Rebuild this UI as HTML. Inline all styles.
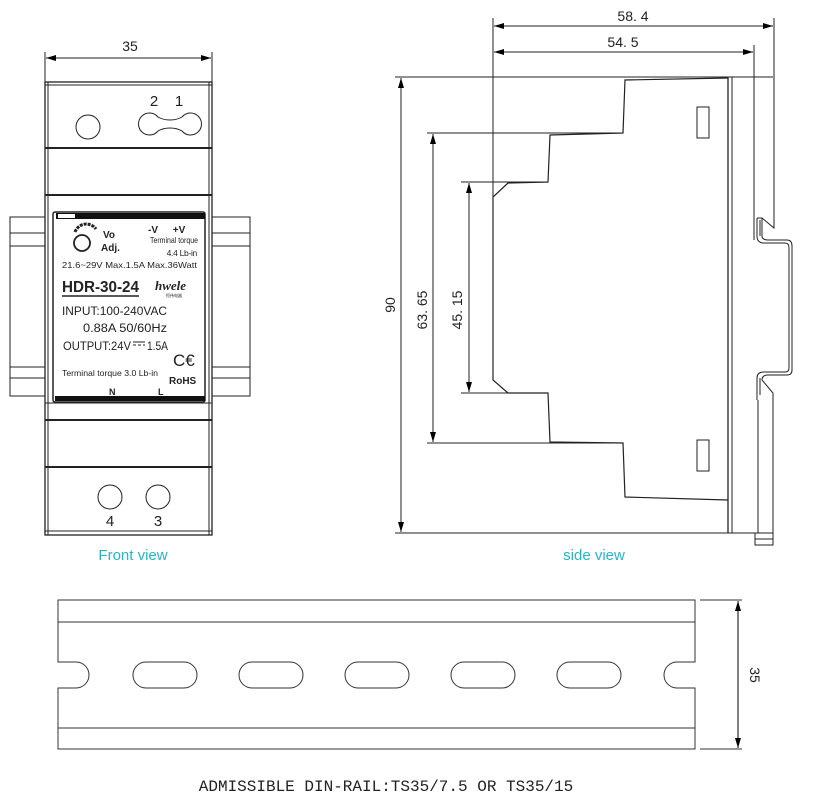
<!DOCTYPE html>
<html><head><meta charset="utf-8"><style>
html,body{margin:0;padding:0;background:#fff;}
svg{display:block;font-family:"Liberation Sans",Arial,sans-serif;}
</style></head><body>
<svg width="813" height="802" viewBox="0 0 813 802" xmlns="http://www.w3.org/2000/svg">
<defs>
<marker id="a" viewBox="0 0 10 6" refX="10" refY="3" markerWidth="10" markerHeight="6" orient="auto-start-reverse"><path d="M0,0 L10,3 L0,6 z" fill="#000"/></marker>
</defs>
<g fill="none" stroke="#222" stroke-width="1">
<!-- FRONT VIEW -->
<line x1="45" y1="52" x2="45" y2="82"/><line x1="212" y1="52" x2="212" y2="82"/>
<line x1="46" y1="58" x2="211" y2="58" marker-start="url(#a)" marker-end="url(#a)"/>
<rect x="10" y="217" width="35" height="179"/>
<line x1="10" y1="233" x2="45" y2="233"/><line x1="10" y1="246" x2="45" y2="246"/>
<line x1="10" y1="367" x2="45" y2="367"/><line x1="10" y1="378" x2="45" y2="378"/>
<rect x="212" y="217" width="38" height="179"/>
<line x1="212" y1="233" x2="250" y2="233"/><line x1="212" y1="246" x2="250" y2="246"/>
<line x1="212" y1="367" x2="250" y2="367"/><line x1="212" y1="378" x2="250" y2="378"/>
<rect x="45" y="82" width="167" height="453" fill="#fff" stroke-width="1.3"/>
<line x1="48" y1="82" x2="48" y2="535"/><line x1="209" y1="82" x2="209" y2="535"/>
<line x1="45" y1="85" x2="212" y2="85"/>
<line x1="45" y1="148" x2="212" y2="148" stroke-width="2"/>
<line x1="45" y1="195" x2="212" y2="195" stroke-width="2"/>
<line x1="45" y1="403" x2="212" y2="403"/>
<line x1="45" y1="420" x2="212" y2="420" stroke-width="2"/>
<line x1="45" y1="467" x2="212" y2="467" stroke-width="2"/>
<line x1="45" y1="531" x2="212" y2="531"/>
<circle cx="88" cy="127" r="12"/>
<path d="M158,117 Q163,120 170,120 Q177,120 182,117 A11,11 0 1 1 182,131 Q177,128 170,128 Q163,128 158,131 A11,11 0 1 1 158,117 Z"/>
<circle cx="110" cy="497" r="12"/><circle cx="158" cy="497" r="12"/>
<rect x="53" y="212" width="152" height="190" rx="2" stroke-width="1.5"/>
</g>
<rect x="56" y="213" width="149" height="6" fill="#111"/>
<rect x="58" y="214" width="17" height="4" fill="#fff"/>
<rect x="55" y="396" width="150" height="5" fill="#111"/>
<g fill="#222">
<text x="130" y="51" font-size="14" text-anchor="middle">35</text>
<text x="154" y="106" font-size="15" text-anchor="middle">2</text>
<text x="179" y="106" font-size="15" text-anchor="middle">1</text>
<text x="110" y="526" font-size="15" text-anchor="middle">4</text>
<text x="158" y="526" font-size="15" text-anchor="middle">3</text>
<text x="153" y="233" font-size="10" font-weight="bold" text-anchor="middle">-V</text>
<text x="179" y="233" font-size="10" font-weight="bold" text-anchor="middle">+V</text>
<text x="150" y="243" font-size="8.5" textLength="48" lengthAdjust="spacingAndGlyphs">Terminal torque</text>
<text x="197" y="256" font-size="8.5" text-anchor="end" letter-spacing="-0.3">4.4 Lb-in</text>
<text x="103" y="238" font-size="10" font-weight="bold">Vo</text>
<text x="101" y="251" font-size="10" font-weight="bold">Adj.</text>
<text x="62" y="268" font-size="8.5" textLength="135" lengthAdjust="spacingAndGlyphs">21.6~29V  Max.1.5A  Max.36Watt</text>
<text x="62" y="292" font-size="15.5" font-weight="bold" textLength="77" lengthAdjust="spacingAndGlyphs">HDR-30-24</text>
<text x="155" y="290" font-size="13" font-weight="bold" font-style="italic" font-family="Liberation Serif,serif">hwele</text>
<text x="166" y="297" font-size="4" font-family="Noto Sans CJK SC,sans-serif">恒伟电器</text>
<text x="62" y="315" font-size="11.5" textLength="105" lengthAdjust="spacingAndGlyphs">INPUT:100-240VAC</text>
<text x="83" y="332" font-size="11.5" textLength="84" lengthAdjust="spacingAndGlyphs">0.88A  50/60Hz</text>
<text x="63" y="350" font-size="11.5" textLength="68" lengthAdjust="spacingAndGlyphs">OUTPUT:24V</text>
<text x="147" y="350" font-size="11.5" textLength="21" lengthAdjust="spacingAndGlyphs">1.5A</text>
<text x="173" y="366" font-size="17">C€</text>
<text x="62" y="376" font-size="8.5" textLength="96" lengthAdjust="spacingAndGlyphs">Terminal torque 3.0 Lb-in</text>
<text x="169" y="384" font-size="10" font-weight="bold">RoHS</text>
<text x="109" y="395" font-size="9" font-weight="bold">N</text>
<text x="158" y="395" font-size="9" font-weight="bold">L</text>
</g>
<g stroke="#222" fill="none">
<line x1="62" y1="296" x2="139" y2="296" stroke-width="1.5"/>
<line x1="133" y1="342" x2="145" y2="342"/><line x1="133" y1="345" x2="136" y2="345"/><line x1="138" y1="345" x2="141" y2="345"/><line x1="143" y1="345" x2="145" y2="345"/>
<circle cx="82" cy="243" r="8" stroke-width="1.8"/>
<path d="M75,232 A12,12 0 0 1 96,229" stroke-width="3" stroke-dasharray="3 1"/>
</g>
<text x="133" y="560" font-size="15" fill="#29b3c7" text-anchor="middle">Front view</text>
<text x="594" y="560" font-size="15" fill="#29b3c7" text-anchor="middle">side view</text>

<!-- SIDE VIEW -->
<g fill="none" stroke="#222" stroke-width="1">
<line x1="493" y1="18" x2="493" y2="197"/>
<line x1="774" y1="18" x2="774" y2="100"/>
<line x1="754" y1="45" x2="754" y2="240"/>
<line x1="494" y1="26" x2="773" y2="26" marker-start="url(#a)" marker-end="url(#a)"/>
<line x1="494" y1="52" x2="753" y2="52" marker-start="url(#a)" marker-end="url(#a)"/>
<line x1="395" y1="77" x2="773" y2="77"/>
<line x1="395" y1="533" x2="773" y2="533"/>
<line x1="401" y1="78" x2="401" y2="532" marker-start="url(#a)" marker-end="url(#a)"/>
<line x1="427" y1="133" x2="623" y2="133"/>
<line x1="427" y1="443" x2="623" y2="443"/>
<line x1="433" y1="134" x2="433" y2="442" marker-start="url(#a)" marker-end="url(#a)"/>
<line x1="461" y1="182" x2="548" y2="182"/>
<line x1="461" y1="393" x2="548" y2="393"/>
<line x1="469" y1="183" x2="469" y2="392" marker-start="url(#a)" marker-end="url(#a)"/>
<polyline points="728,78 625,80 623,133 550,135 548,182 508,183 493,197 493,380 508,393 548,393 550,442 623,443 625,497 728,500" stroke-width="1.2"/>
<line x1="728" y1="77" x2="728" y2="533" stroke-width="1.3"/>
<line x1="732" y1="77" x2="732" y2="533"/>
<rect x="697" y="107" width="12" height="31"/>
<rect x="697" y="440" width="12" height="31"/>
<polyline points="774,77 774,228 762,218 757,218"/>
<path d="M757,218 L757,236 Q757,243 764,243 L785,243 Q789,243 789,248 L789,368 Q789,372 785,372 L764,372 Q757,372 757,378 L757,400"/>
<path d="M762,218 L762,236 Q762,240 768,240 L787,240 Q792,240 792,246 L792,370 Q792,375 787,375 L768,375 Q762,375 762,380"/>
<path d="M760,220 L760,236 M760,378 L760,395"/>
<polyline points="762,380 773,393 773,533"/>
<line x1="758" y1="400" x2="758" y2="533"/>
<rect x="755" y="533" width="18" height="12"/>
<line x1="755" y1="539" x2="773" y2="539"/>
</g>
<g fill="#222" font-size="14">
<text x="633" y="21" text-anchor="middle">58. 4</text>
<text x="623" y="47" text-anchor="middle">54. 5</text>
<text transform="translate(395,305) rotate(-90)" text-anchor="middle">90</text>
<text transform="translate(427,310) rotate(-90)" text-anchor="middle">63. 65</text>
<text transform="translate(462,310) rotate(-90)" text-anchor="middle">45. 15</text>
</g>

<!-- DIN RAIL -->
<g fill="none" stroke="#333" stroke-width="1">
<path d="M58,600 L695,600 L695,662 L677,662 A13,13 0 0 0 677,688 L695,688 L695,749 L58,749 L58,688 L76,688 A13,13 0 0 0 76,662 L58,662 Z"/>
<line x1="58" y1="622" x2="695" y2="622"/>
<line x1="58" y1="728" x2="695" y2="728"/>
<rect x="133" y="662" width="64" height="26" rx="13"/>
<rect x="239" y="662" width="64" height="26" rx="13"/>
<rect x="345" y="662" width="64" height="26" rx="13"/>
<rect x="451" y="662" width="64" height="26" rx="13"/>
<rect x="557" y="662" width="64" height="26" rx="13"/>
<line x1="700" y1="600" x2="742" y2="600"/>
<line x1="700" y1="749" x2="742" y2="749"/>
<line x1="738" y1="601" x2="738" y2="748" stroke="#000" marker-start="url(#a)" marker-end="url(#a)"/>
</g>
<text transform="translate(750,675) rotate(90)" font-size="14" fill="#222" text-anchor="middle">35</text>
<text x="386" y="791" font-size="16" fill="#222" text-anchor="middle" font-family="'Liberation Mono',monospace">ADMISSIBLE DIN-RAIL:TS35/7.5 OR TS35/15</text>
</svg>
</body></html>
